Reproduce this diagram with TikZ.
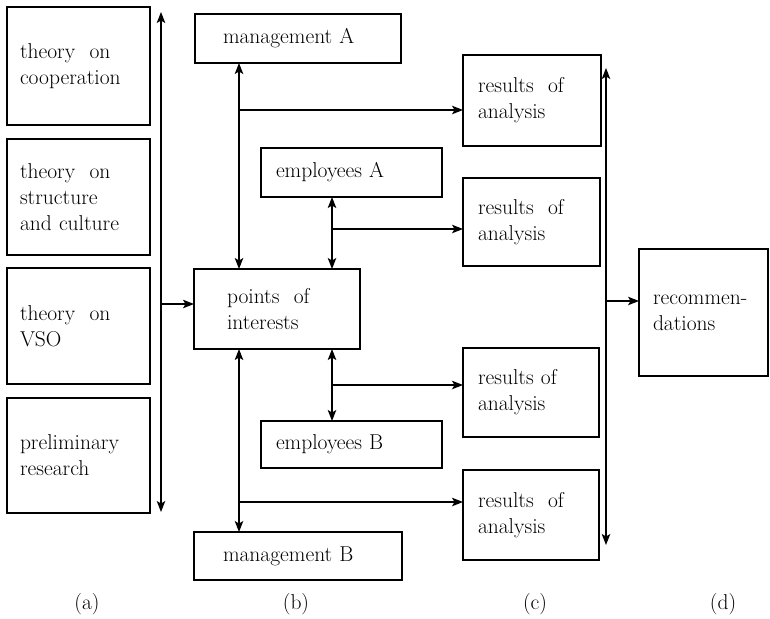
\documentclass[tikz,border=0pt]{standalone}
\usetikzlibrary{arrows.meta}
\begin{document}
\begin{tikzpicture}[x=1pt,y=-1pt,
  every node/.style={font=\fontsize{21.5}{26}\selectfont},
  box/.style={draw, line width=1.5pt, inner ysep=0pt, outer sep=0pt, align=left},
  tip/.tip={Stealth[length=11pt,width=8.5pt,inset=2.5pt]},
  link/.style={line width=1.2pt, -tip},
  link2/.style={line width=1.2pt, tip-tip},
  caption/.style={inner sep=0pt}
]
\useasboundingbox (0,0) rectangle (770,618);

% column (a): theory inputs
\node[box, minimum width=143pt, minimum height=118pt, text width=117pt, inner xsep=13pt] (th1) at (78.5,66) {theory~ on\\cooperation};
\node[box, minimum width=143pt, minimum height=116pt, text width=117pt, inner xsep=13pt] (th2) at (78.5,197) {theory~ on\\structure\\and culture};
\node[box, minimum width=143pt, minimum height=116pt, text width=117pt, inner xsep=13pt] (th3) at (78.5,326) {theory~ on\\VSO};
\node[box, minimum width=143pt, minimum height=115pt, text width=117pt, inner xsep=13pt] (th4) at (78.5,455.5) {preliminary\\research};

% column (b): actors and points of interest
\node[box, minimum width=206pt, minimum height=49pt, text width=150pt, inner xsep=28pt] (mA) at (298,38.5) {management A};
\node[box, minimum width=181pt, minimum height=49pt, text width=151pt, inner xsep=15pt] (eA) at (351.5,172.5) {employees A};
\node[box, minimum width=166pt, minimum height=80pt, text width=100pt, inner xsep=33pt] (pts) at (277,309) {points~ of\\interests};
\node[box, minimum width=181pt, minimum height=47pt, text width=151pt, inner xsep=15pt] (eB) at (351.5,444.5) {employees B};
\node[box, minimum width=208pt, minimum height=48pt, text width=150pt, inner xsep=29pt] (mB) at (298,556) {management B};

% column (c): analysis results
\node[box, minimum width=138pt, minimum height=91pt, text width=108pt, inner xsep=15pt] (r1) at (532,100.5) {results~ of\\analysis};
\node[box, minimum width=137pt, minimum height=88pt, text width=107pt, inner xsep=15pt] (r2) at (531.5,222) {results~ of\\analysis};
\node[box, minimum width=136pt, minimum height=89pt, text width=106pt, inner xsep=15pt] (r3) at (531,392.5) {results of\\analysis};
\node[box, minimum width=136pt, minimum height=90pt, text width=106pt, inner xsep=15pt] (r4) at (531,515) {results~ of\\analysis};

% column (d)
\node[box, minimum width=129pt, minimum height=127pt, text width=101pt, inner xsep=14pt] (rec) at (703.5,312.5) {recommen-\\dations};

% captions
\node[caption] (ca) at (87,604) {(a)};
\node[caption] (cb) at (296,604) {(b)};
\node[caption] (cc) at (535,604) {(c)};
\node[caption] (cd) at (723,604) {(d)};

% collector of column (a)
\coordinate (aT) at (161,12);
\coordinate (aB) at (161,512);
\coordinate (aM) at (161,304);
\draw[link2] (aT) -- (aB);
\draw[link] (aM) -- (aM -| pts.west);

% links between actors and points of interest
\coordinate (xL) at (239,0);
\coordinate (xR) at (332,0);
\draw[link2] (mA.south -| xL) -- (pts.north -| xL);
\draw[link2] (eA.south -| xR) -- (pts.north -| xR);
\draw[link2] (pts.south -| xL) -- (mB.north -| xL);
\draw[link2] (pts.south -| xR) -- (eB.north -| xR);

% branches to the analysis results
\coordinate (b1) at (239,110);
\coordinate (b2) at (332,229);
\coordinate (b3) at (332,385);
\coordinate (b4) at (239,502);
\draw[link] (b1) -- (b1 -| r1.west);
\draw[link] (b2) -- (b2 -| r2.west);
\draw[link] (b3) -- (b3 -| r3.west);
\draw[link] (b4) -- (b4 -| r4.west);

% collector of column (c)
\coordinate (cT) at (606,68);
\coordinate (cB) at (606,545);
\coordinate (cM) at (606,301);
\draw[link2] (cT) -- (cB);
\draw[link] (cM) -- (cM -| rec.west);
\end{tikzpicture}
\end{document}
